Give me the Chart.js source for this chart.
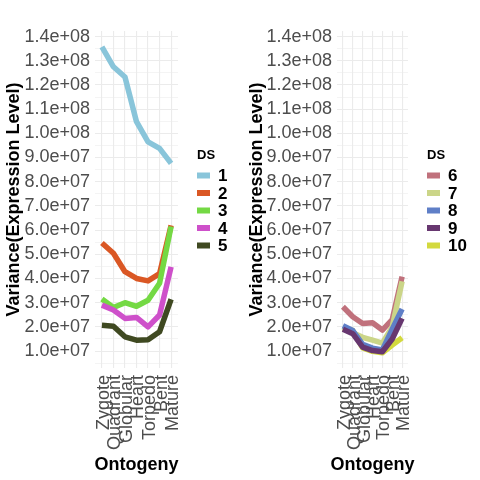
<!DOCTYPE html>
<html><head><meta charset="utf-8">
<script src="https://cdn.jsdelivr.net/npm/chart.js@4.4.0/dist/chart.umd.min.js"></script>
<style>
html,body{margin:0;padding:0;background:#fff;}
#wrap{display:flex;width:480px;height:480px;}
.c{position:relative;width:240px;height:480px;}
canvas{display:block;}
</style></head><body>
<div id="wrap"><div class="c"><canvas id="c1" width="240" height="480"></canvas></div><div class="c"><canvas id="c2" width="240" height="480"></canvas></div></div>
<script>
const categories = ['Zygote','Quadrant','Globular','Heart','Torpedo','Bent','Mature'];
const yTickValues = [1e7,2e7,3e7,4e7,5e7,6e7,7e7,8e7,9e7,1e8,1.1e8,1.2e8,1.3e8,1.4e8];
const yTickLabels = ['1.0e+07','2.0e+07','3.0e+07','4.0e+07','5.0e+07','6.0e+07','7.0e+07','8.0e+07','9.0e+07','1.0e+08','1.1e+08','1.2e+08','1.3e+08','1.4e+08'];
const xTitle = 'Ontogeny';
const yTitle = 'Variance(Expression Level)';
const legendTitle = 'DS';

const leftLabels = ['1','2','3','4','5'];
const rightLabels = ['6','7','8','9','10'];
const leftColors = ['#89C5DA','#DA5724','#74D944','#CE50CA','#3F4921'];
const rightColors = ['#C0717C','#CBD588','#5F7FC7','#673770','#D3D93E'];
// drawing stack, bottom to top (series indices)
const leftStack = [0,1,2,3,4];
const rightStack = [4,0,1,2,3];

const ds1 = [1.357e8,1.275e8,1.233e8,1.048e8,9.65e7,9.38e7,8.76e7];
const ds2 = [5.47e7,5.04e7,4.28e7,4.0e7,3.9e7,4.2e7,6.2e7];
const ds3 = [3.15e7,2.8e7,3.0e7,2.85e7,3.1e7,3.8e7,6.15e7];
const ds4 = [2.9e7,2.7e7,2.35e7,2.39e7,2.0e7,2.49e7,4.48e7];
const ds5 = [2.07e7,2.03e7,1.59e7,1.45e7,1.47e7,1.8e7,3.14e7];
const ds6 = [2.83e7,2.42e7,2.14e7,2.17e7,1.87e7,2.3e7,4.08e7];
const ds7 = [2.0e7,1.76e7,1.57e7,1.45e7,1.33e7,2.0e7,3.88e7];
const ds8 = [2.05e7,1.85e7,1.28e7,1.12e7,1.05e7,1.9e7,2.74e7];
const ds9 = [1.9e7,1.72e7,1.16e7,1.02e7,0.97e7,1.5e7,2.35e7];
const ds10 = [1.95e7,1.85e7,1.13e7,0.99e7,0.93e7,1.25e7,1.55e7];

const leftSeries = [ds1,ds2,ds3,ds4,ds5];
const rightSeries = [ds6,ds7,ds8,ds9,ds10];

const FONT = '"Liberation Sans", Arial, sans-serif';

function decorPlugin(){
  return {
    id: 'dsDecor',
    afterDraw(chart){
      const {ctx, chartArea} = chart;
      const x0 = chartArea.right + 19;
      const cy = (chartArea.top + chartArea.bottom) / 2;
      ctx.save();
      ctx.textBaseline = 'middle';
      ctx.textAlign = 'left';
      ctx.fillStyle = '#000';
      ctx.font = 'bold 13px ' + FONT;
      ctx.fillText(legendTitle, x0, cy - 44.5);
      chart.data.datasets.forEach((d, i) => {
        const y = cy - 24 + i * 17.5;
        ctx.fillStyle = d.borderColor;
        ctx.fillRect(x0, y - 3, 13, 6);
        ctx.fillStyle = '#000';
        ctx.font = 'bold 17px ' + FONT;
        ctx.fillText(d.label, x0 + 21, y + 1);
      });
      ctx.textAlign = 'center';
      ctx.font = 'bold 18px ' + FONT;
      ctx.fillText(xTitle, (chartArea.left + chartArea.right) / 2, 465);
      ctx.restore();
    }
  };
}

function makeChart(id, series, labels, colors, stack, yWidth, padRight, titlePad){
  const n = series.length;
  const datasets = series.map((vals, i) => ({
    label: labels[i],
    data: vals.map((v, j) => ({x: j, y: v})),
    borderColor: colors[i],
    backgroundColor: colors[i],
    borderWidth: 5.5,
    pointRadius: 0,
    tension: 0,
    fill: false,
    borderJoinStyle: 'round',
    borderCapStyle: 'butt',
    order: n - stack.indexOf(i)
  }));
  const gridVals = [];
  yTickValues.forEach(v => { gridVals.push(v - 5e6); gridVals.push(v); });
  return new Chart(document.getElementById(id), {
    type: 'line',
    data: { datasets },
    plugins: [decorPlugin()],
    options: {
      responsive: false,
      animation: false,
      devicePixelRatio: 1,
      layout: { padding: { top: 31, right: padRight, bottom: 0, left: 0 } },
      plugins: { legend: { display: false }, tooltip: { enabled: false } },
      scales: {
        x: {
          type: 'linear',
          min: -0.6,
          max: 6.6,
          afterBuildTicks: s => { s.ticks = categories.map((c, i) => ({ value: i })); },
          afterFit: s => { s.height = 112; },
          ticks: {
            autoSkip: false,
            minRotation: 90,
            maxRotation: 90,
            padding: 7,
            labelOffset: 2,
            color: '#4D4D4D',
            font: { family: FONT, size: 18 },
            callback: v => categories[v]
          },
          grid: { color: '#EBEBEB', lineWidth: 1.1, drawTicks: false },
          border: { display: false },
          title: { display: false }
        },
        y: {
          type: 'linear',
          min: 3e6,
          max: 1.423e8,
          afterBuildTicks: s => { s.ticks = gridVals.map(v => ({ value: v })); },
          afterFit: s => { s.width = yWidth; },
          ticks: {
            autoSkip: false,
            padding: 5,
            color: '#4D4D4D',
            font: { family: FONT, size: 18 },
            callback: v => { const k = yTickValues.indexOf(v); return k >= 0 ? yTickLabels[k] : ''; }
          },
          grid: {
            color: '#EBEBEB',
            lineWidth: c => (yTickValues.indexOf(c.tick && c.tick.value) >= 0 ? 1.1 : 0.55),
            drawTicks: false
          },
          border: { display: false },
          title: {
            display: true, text: yTitle, color: '#000',
            font: { family: FONT, size: 18, weight: 'bold' },
            padding: { top: titlePad, bottom: 0 }
          }
        }
      }
    }
  });
}

makeChart('c1', leftSeries, leftLabels, leftColors, leftStack, 95, 62, 3);
makeChart('c2', rightSeries, rightLabels, rightColors, rightStack, 97, 72, 6);
</script>
</body></html>
